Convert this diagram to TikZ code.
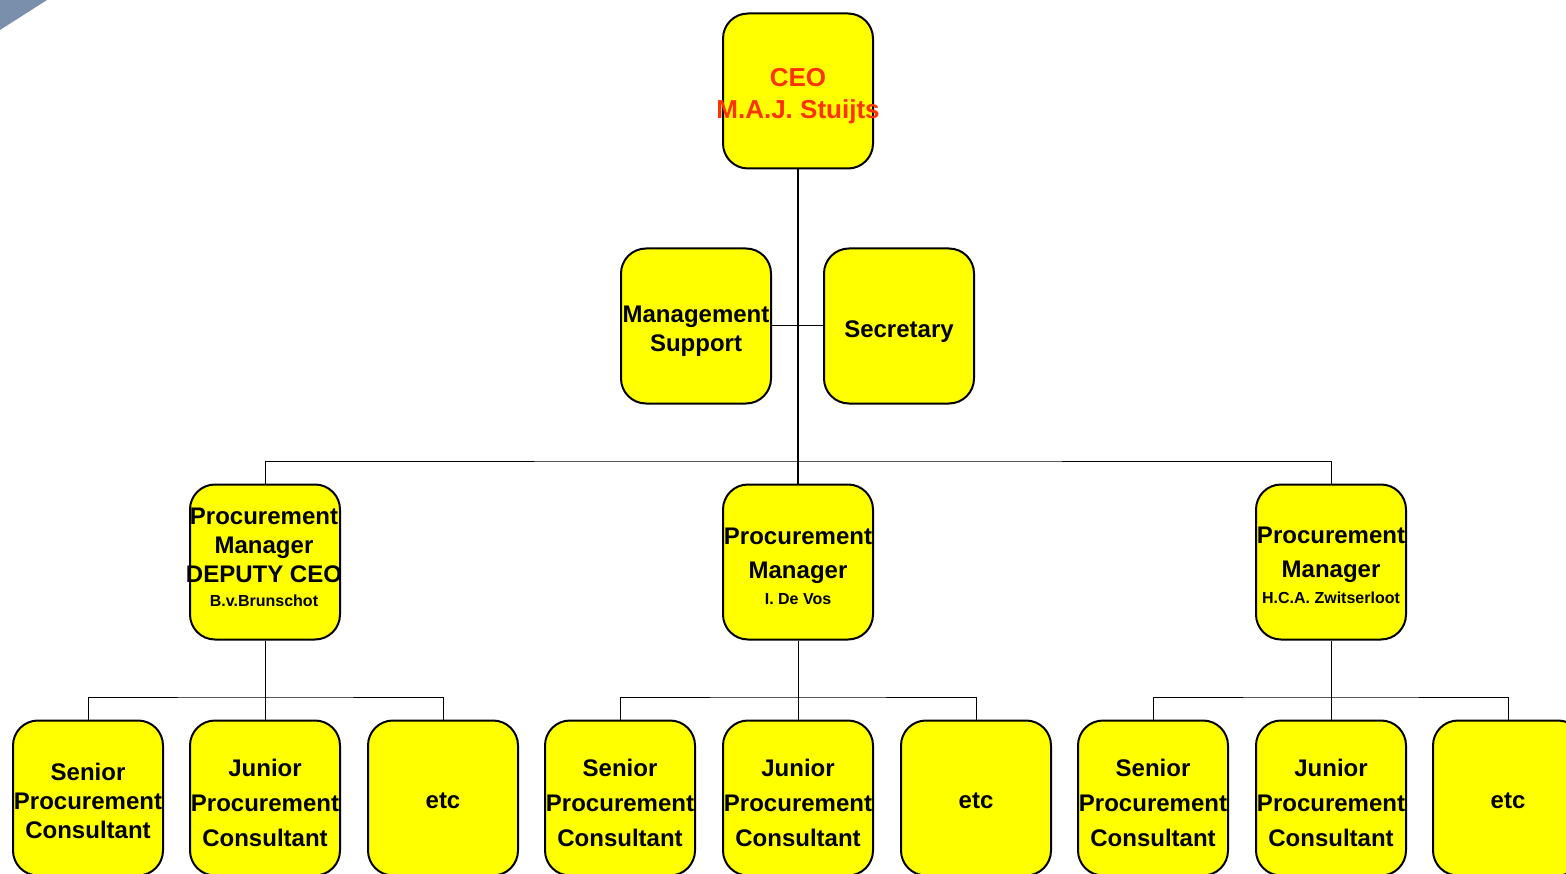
\documentclass[tikz,border=0pt]{standalone}
\usepackage{fontspec}
\setmainfont{Liberation Sans}
\definecolor{ceored}{RGB}{255,51,0}
\definecolor{boxyellow}{RGB}{255,255,0}
\definecolor{tricol}{RGB}{122,143,172}
\begin{document}
\begin{tikzpicture}[x=1pt,y=-1pt,
  box/.style={draw=black, line width=2pt, fill=boxyellow, rounded corners=25pt,
    minimum width=150pt, minimum height=155pt, inner sep=0pt},
  txt/.style={inner sep=0pt, align=center},
  big/.style={txt, font=\bfseries\fontsize{24}{29}\selectfont},
  bigwide/.style={txt, font=\bfseries\fontsize{24}{35}\selectfont},
  conn/.style={draw=black, line width=1pt},
  trunk/.style={draw=black, line width=1.8pt}]
\useasboundingbox (0,0) rectangle (1566,874);
\clip (0,0) rectangle (1566,874);
\fill[tricol] (0,0) -- (47,0) -- (0,30) -- cycle;
% boxes
\node[box] (ceo) at (798,91) {};
\node[box] (msup) at (696,326) {};
\node[box] (sec) at (899,326) {};
\node[box] (m1) at (265,562) {};
\node[box] (m2) at (798,562) {};
\node[box] (m3) at (1331,562) {};
\node[box] (b11) at (88,798) {};
\node[box] (b12) at (265,798) {};
\node[box] (b13) at (443,798) {};
\node[box] (b21) at (620,798) {};
\node[box] (b22) at (798,798) {};
\node[box] (b23) at (976,798) {};
\node[box] (b31) at (1153,798) {};
\node[box] (b32) at (1331,798) {};
\node[box] (b33) at (1508,798) {};
% texts
\node[txt, font=\bfseries\fontsize{26}{32}\selectfont, text=ceored] (ceot) at ([yshift=-5pt]ceo.center) {CEO\\M.A.J. Stuijts};
\node[big] (msupt) at ([yshift=-5pt]msup.center) {Management\\Support};
\node[big] (sect) at ([yshift=-6pt]sec.center) {Secretary};
\node[big] (m1t) at ([xshift=-1pt,yshift=5pt]m1.center) {Procurement\\Manager\\DEPUTY CEO\\[-5pt]{\fontsize{16}{19}\selectfont B.v.Brunschot}};
\node[txt, font=\bfseries\fontsize{24}{34}\selectfont] (m2t) at ([yshift=-4pt]m2.center) {Procurement\\Manager\\[-8pt]{\fontsize{16}{19}\selectfont I. De Vos}};
\node[txt, font=\bfseries\fontsize{24}{34}\selectfont] (m3t) at ([yshift=-3pt]m3.center) {Procurement\\Manager\\[-8pt]{\fontsize{16}{19}\selectfont H.C.A. Zwitserloot}};
\node[big] (b11t) at ([yshift=-3pt]b11.center) {Senior\\Procurement\\Consultant};
\node[bigwide] (b12t) at ([yshift=-5pt]b12.center) {Junior\\Procurement\\Consultant};
\node[big] (b13t) at ([yshift=-3pt]b13.center) {etc};
\node[bigwide] (b21t) at ([yshift=-5pt]b21.center) {Senior\\Procurement\\Consultant};
\node[bigwide] (b22t) at ([yshift=-5pt]b22.center) {Junior\\Procurement\\Consultant};
\node[big] (b23t) at ([yshift=-3pt]b23.center) {etc};
\node[bigwide] (b31t) at ([yshift=-5pt]b31.center) {Senior\\Procurement\\Consultant};
\node[bigwide] (b32t) at ([yshift=-5pt]b32.center) {Junior\\Procurement\\Consultant};
\node[big] (b33t) at ([yshift=-3pt]b33.center) {etc};
% connectors
\coordinate (bar) at (798,461);
\coordinate (g1) at (265,697);
\coordinate (g2) at (798,697);
\coordinate (g3) at (1331,697);
\draw[trunk] (ceo.south) -- (m2.north);
\draw[conn] (msup.east) -- (sec.west);
\draw[conn] (m1.north) |- (bar) -| (m3.north);
\draw[conn] (m1.south) -- (b12.north);
\draw[conn] (b11.north) |- (g1) -| (b13.north);
\draw[conn] (m2.south) -- (b22.north);
\draw[conn] (b21.north) |- (g2) -| (b23.north);
\draw[conn] (m3.south) -- (b32.north);
\draw[conn] (b31.north) |- (g3) -| (b33.north);
\end{tikzpicture}
\end{document}
